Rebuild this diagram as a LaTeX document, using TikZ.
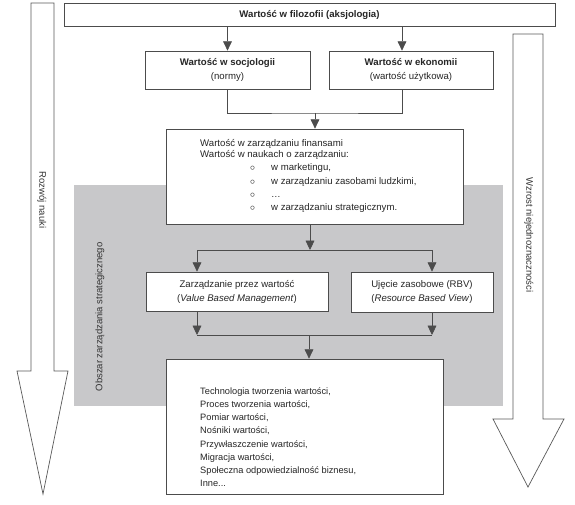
\documentclass[tikz,border=0pt]{standalone}
\usepackage{fontspec}
\setmainfont{Liberation Sans}
\usetikzlibrary{arrows.meta}
\tikzset{>={Triangle[width=7.5pt,length=8pt]}}
\tikzset{
  box/.style={draw=black!70, fill=white, line width=.6pt, inner sep=0pt, align=center, text=black!85},
  arr/.style={->, draw=black!70, line width=.6pt},
  bigarrow/.style={draw=black!65, fill=white, line width=.6pt},
  sidetext/.style={text=black!80, font=\fontsize{8.1}{9.5}\selectfont},
  listtext/.style={inner sep=0pt, align=left, anchor=north west, text=black!85},
}
\definecolor{obszar}{RGB}{200,200,202}
\newcommand{\punkt}[1]{\hspace*{1.5cm}\makebox[.63cm][l]{$\circ$}#1}

\begin{document}
\begin{tikzpicture}[x=.03cm, y=-.03cm, font=\fontsize{8.2}{10}\selectfont]
    \useasboundingbox (0,0) rectangle (575,505);
    \fill[obszar] (74,185) rectangle (503,406);
    % strzalki boczne
    \draw[bigarrow] (31,3)--(54,3)--(54,371)--(68,371)--(43,494)--(17,371)--(31,371)--cycle;
    \draw[bigarrow] (513,34)--(543,34)--(543,419)--(564,419)--(528,487)--(493,419)--(513,419)--cycle;
    \node[sidetext, rotate=-90] (nauka) at (42,200) {Rozwój nauki};
    \node[sidetext, rotate=-90] (wzrost) at (529,235) {Wzrost niejednoznaczności};
    \node[sidetext, rotate=90] (obszartxt) at (100,317) {Obszar zarządzania strategicznego};

    \node[box, minimum width=14.73cm, minimum height=.69cm] (filo) at (309.5,14.5) {\textbf{Wartość w filozofii (aksjologia)}};
    \node[box, minimum width=4.95cm, minimum height=1.14cm] (socj) at (227.5,70) {\textbf{Wartość w socjologii}\\[2pt](normy)};
    \node[box, minimum width=4.92cm, minimum height=1.14cm] (ekon) at (411,70) {\textbf{Wartość w ekonomii}\\[2pt](wartość użytkowa)};
    \node[box, minimum width=8.91cm, minimum height=2.85cm] (zarz) at (314.5,176.5) {};
    \node[listtext, font=\fontsize{8.2}{9.4}\selectfont] (zarztxt) at (200,139) {Wartość w zarządzaniu finansami\\
        Wartość w naukach o zarządzaniu:\\[2pt]
        \punkt{w marketingu,}\\[2pt]
        \punkt{w zarządzaniu zasobami ludzkimi,}\\[2pt]
        \punkt{\dots}\\[2pt]
        \punkt{w zarządzaniu strategicznym.}};
    \node[box, minimum width=5.46cm, minimum height=1.17cm] (vbm) at (237,291.5) {Zarządzanie przez wartość\\[2pt](\textit{Value Based Management})};
    \node[box, minimum width=4.26cm, minimum height=1.2cm] (rbv) at (422,292) {Ujęcie zasobowe (RBV)\\[2pt](\textit{Resource Based View})};
    \node[box, minimum width=8.31cm, minimum height=4.05cm] (lista) at (304.5,426.5) {};
    \node[listtext, font=\fontsize{7.9}{11.3}\selectfont] (listatxt) at (200,387) {Technologia tworzenia wartości,\\
        Proces tworzenia wartości,\\
        Pomiar wartości,\\
        Nośniki wartości,\\
        Przywłaszczenie wartości,\\
        Migracja wartości,\\
        Społeczna odpowiedzialność biznesu,\\
        Inne...};

    % polaczenia
    \draw[arr] (filo.south -| socj.north)--(socj.north);
    \draw[arr] ([xshift=-.27cm]ekon.north |- filo.south)--([xshift=-.27cm]ekon.north);
    \coordinate (j1) at (315,113);
    \draw[draw=black!70, line width=.6pt] (socj.south) |- (j1) -| ([xshift=-.27cm]ekon.south);
    \draw[arr] (j1)--(j1 |- zarz.north);
    \coordinate (j2) at (310,250);
    \coordinate (aL) at (197,250);
    \coordinate (aR) at (432,250);
    \draw[arr] (j2 |- zarz.south)--(j2);
    \draw[draw=black!70, line width=.6pt] (aL)--(aR);
    \draw[arr] (aL)--(aL |- vbm.north);
    \draw[arr] (aR)--(aR |- rbv.north);
    \coordinate (bL) at (197,335);
    \coordinate (bR) at (432,335);
    \coordinate (j3) at (309,335);
    \draw[arr] (aL |- vbm.south)--(bL);
    \draw[arr] (aR |- rbv.south)--(bR);
    \draw[draw=black!70, line width=.6pt] (bL)--(bR);
    \draw[arr] (j3)--(j3 |- lista.north);
\end{tikzpicture}
\end{document}
